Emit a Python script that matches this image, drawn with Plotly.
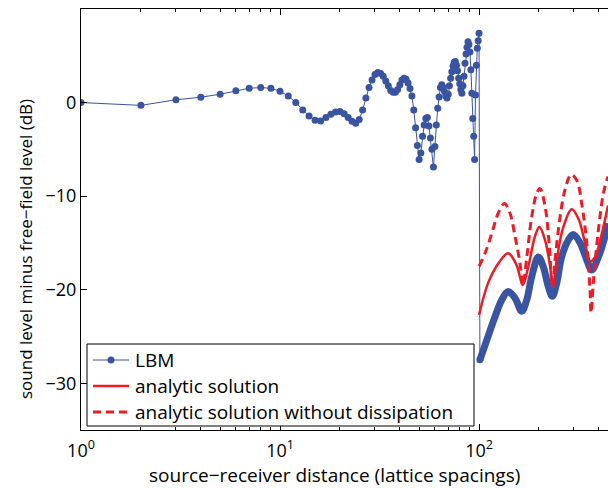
import plotly.graph_objects as go

# ---------------- data ----------------
# LBM near field: integer distances 1..100
lbm_r_near = list(range(1, 101))
lbm_db_near = [
    0.0, -0.3, 0.3, 0.57, 0.89, 1.27, 1.53, 1.6, 1.53, 1.2,
    0.7, 0.0, -0.8, -1.43, -1.9, -1.97, -1.6, -1.25, -1.0, -0.95,
    -1.2, -1.6, -2.0, -2.2, -1.8, -0.8, 0.5, 1.6, 2.4, 3.0,
    3.2, 3.1, 2.8, 2.3, 1.8, 1.3, 1.1, 1.1, 1.4, 1.9,
    2.4, 2.6, 2.5, 2.1, 1.5, 0.7, -0.8, -2.7, -4.6, -6.1,
    -5.4, -3.6, -2.4, -1.7, -1.6, -2.5, -3.8, -5.0, -6.9, -4.7,
    -2.4, -0.6, 0.6, 1.6, 1.9, 1.6, 1.2, 0.7, 0.5, 0.9,
    1.8, 2.6, 3.3, 3.9, 4.3, 4.4, 4.0, 3.4, 2.6, 2.0,
    1.4, 1.0, 1.8, 2.8, 4.2, 5.2, 5.9, 6.5, 6.2, 5.4,
    3.5, 1.0, -1.7, -3.6, -6.1, 0.8, 4.0, 5.8, 6.6, 7.4,
]

# LBM far field (dense samples drawn as a thick band)
lbm_r_far = [101, 111, 120.3, 130, 140, 151.6, 164, 173.6, 184, 198.6, 210, 223,
             233.6, 245.7, 260, 281, 297.6, 322, 347.5, 368, 398, 429.5, 444.7]
lbm_db_far = [-27.5, -25.0, -22.9, -21.1, -20.2, -20.9, -22.3, -21.1, -18.6, -16.5, -17.5, -19.7,
              -20.7, -19.3, -16.5, -14.7, -14.1, -15.0, -16.8, -17.9, -16.5, -14.3, -12.9]

# analytic solution
ana_r = [100, 111, 125, 140, 154.6, 165.9, 177, 191, 201, 214.6, 227.5, 234.6,
         245.7, 265.3, 292.2, 315.6, 341, 361, 382.7, 413.9, 444.7]
ana_db = [-22.7, -19.3, -17.2, -16.1, -17.4, -19.5, -17.5, -14.3, -13.3, -14.7, -17.5, -19.7,
          -16.8, -13.3, -11.4, -12.4, -15.0, -17.0, -16.5, -14.0, -11.0]

# analytic solution without dissipation
nodis_r = [100, 107.2, 115.8, 125, 134, 143, 151.6, 160.7, 165.9, 173.8, 184, 195, 202.6,
           214.6, 224.9, 233.6, 241, 255.4, 270.5, 290, 309.6, 328, 347.5, 361, 365.5,
           375, 398, 421.5, 438.5, 444.7]
nodis_db = [-17.5, -16.1, -14.0, -11.8, -10.8, -11.8, -14.3, -17.2, -19.5, -16.5, -12.2, -9.7, -9.2,
            -11.1, -15.0, -19.7, -16.8, -12.2, -9.3, -7.7, -8.3, -10.8, -15.0, -20.0, -22.5,
            -19.3, -13.6, -9.7, -8.3, -7.9]

x_tickvals = [1, 10, 100]
x_ticktext = ["10<sup>0</sup>", "10<sup>1</sup>", "10<sup>2</sup>"]
y_tickvals = [-30, -20, -10, 0]

legend_names = ["LBM", "analytic solution", "analytic solution without dissipation"]

BLUE = "rgb(58,84,164)"
RED = "rgb(237,28,36)"
FONT = "Open Sans"

# pixel -> paper helpers (plot area: x 81..608, y 9..430)
def px(xp):
    return (xp - 81) / 527.0

def py(yp):
    return (430 - yp) / 421.0

fig = go.Figure()

fig.add_trace(go.Scatter(
    x=lbm_r_far, y=lbm_db_far, mode="lines", line=dict(color=BLUE, width=7, shape="spline"),
    showlegend=False, hoverinfo="skip"))

fig.add_trace(go.Scatter(
    x=lbm_r_near + [lbm_r_far[0]], y=lbm_db_near + [lbm_db_far[0]],
    mode="lines+markers", name=legend_names[0],
    line=dict(color=BLUE, width=1), marker=dict(color=BLUE, size=7)))

fig.add_trace(go.Scatter(
    x=ana_r, y=ana_db, mode="lines", name=legend_names[1],
    line=dict(color=RED, width=2.5, shape="spline")))

fig.add_trace(go.Scatter(
    x=nodis_r, y=nodis_db, mode="lines", name=legend_names[2],
    line=dict(color=RED, width=3, dash="8px,5px", shape="spline")))

minor_vals = [v * d for d in (1, 10, 100) for v in range(2, 10)]

# ---- hand-made legend (MATLAB style box) ----
shapes = [
    dict(type="rect", xref="paper", yref="paper", x0=px(87), x1=px(474), y0=py(426), y1=py(344),
         line=dict(color="black", width=1), fillcolor="white", layer="above"),
]
rows = [360, 386, 412]
styles = [dict(color=BLUE, width=1), dict(color=RED, width=2.5),
          dict(color=RED, width=3, dash="8px,5px")]
annotations = []
for yrow, st, name in zip(rows, styles, legend_names):
    shapes.append(dict(type="line", xref="paper", yref="paper", x0=px(93), x1=px(129),
                       y0=py(yrow), y1=py(yrow), line=st, layer="above"))
    annotations.append(dict(text=name, xref="paper", yref="paper", x=px(133), y=py(yrow),
                            xanchor="left", yanchor="middle", showarrow=False,
                            font=dict(family=FONT, size=19)))
shapes.append(dict(type="circle", xref="paper", yref="paper", x0=px(107.5), x1=px(114.5),
                   y0=py(rows[0] + 3.5), y1=py(rows[0] - 3.5),
                   line=dict(color=BLUE, width=0), fillcolor=BLUE, layer="above"))

annotations += [
    dict(text="source\u2212receiver distance (lattice spacings)", xref="paper", yref="paper",
         x=px(147), y=py(475), xanchor="left", yanchor="middle",
         showarrow=False, font=dict(family=FONT, size=19)),
    dict(text="sound level minus free\u2212field level (dB)", xref="paper", yref="paper",
         x=px(25), y=py(401), xanchor="center", yanchor="bottom",
         textangle=-90, showarrow=False, font=dict(family=FONT, size=17)),
]

fig.update_layout(
    width=608, height=488,
    margin=dict(l=81, r=0, t=9, b=58),
    paper_bgcolor="white", plot_bgcolor="white",
    font=dict(family=FONT, size=18, color="black"),
    showlegend=False,
    xaxis=dict(type="log", range=[0, 2.648], tickvals=x_tickvals, ticktext=x_ticktext,
               ticks="inside", ticklen=6, tickcolor="black", showline=True, linecolor="black",
               linewidth=1, mirror="ticks", showgrid=False, zeroline=False,
               ticklabelstandoff=4,
               minor=dict(tickvals=minor_vals, ticks="inside", ticklen=3, tickcolor="black",
                          showgrid=False),
               tickfont=dict(family=FONT, size=18)),
    yaxis=dict(range=[-35, 10], tickvals=y_tickvals, ticks="inside", ticklen=6,
               tickcolor="black", showline=True, linecolor="black", linewidth=1,
               mirror=False, showgrid=False, zeroline=False,
               tickfont=dict(family=FONT, size=18)),
    shapes=shapes,
    annotations=annotations,
)

fig.write_html("out.html")
